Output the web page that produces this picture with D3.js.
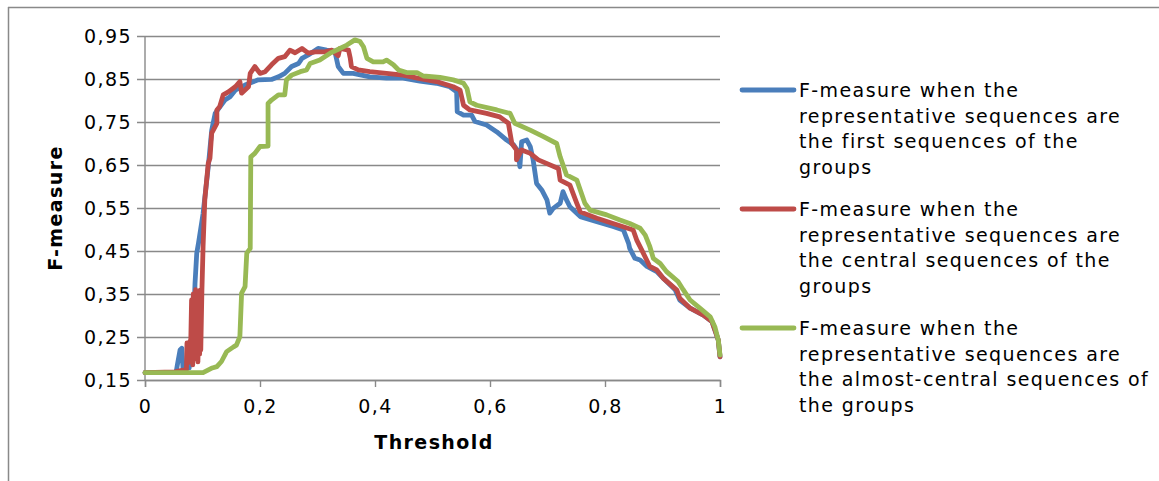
<!DOCTYPE html>
<html>
<head>
<meta charset="utf-8">
<script src="https://cdn.jsdelivr.net/npm/d3@7"></script>
<style>
  body { margin: 0; background: #fff; }
  text { font-family: "DejaVu Sans", Verdana, sans-serif; fill: #000; }
</style>
</head>
<body>
<svg id="vis" width="1159" height="481"></svg>
<script>
// threshold, F-measure
const firstSeq = [[0,0.167],[0.054,0.167],[0.056,0.183],[0.061,0.22],[0.064,0.224],[0.066,0.178],[0.077,0.178],[0.078,0.23],[0.083,0.23],[0.087,0.375],[0.09,0.445],[0.093,0.468],[0.101,0.537],[0.11,0.646],[0.116,0.731],[0.122,0.77],[0.139,0.801],[0.148,0.809],[0.157,0.824],[0.174,0.836],[0.197,0.848],[0.22,0.849],[0.232,0.855],[0.243,0.863],[0.255,0.879],[0.267,0.886],[0.273,0.898],[0.284,0.906],[0.301,0.921],[0.316,0.917],[0.33,0.915],[0.336,0.879],[0.345,0.863],[0.362,0.863],[0.391,0.855],[0.42,0.852],[0.449,0.852],[0.478,0.845],[0.507,0.84],[0.53,0.832],[0.542,0.82],[0.543,0.774],[0.554,0.766],[0.568,0.766],[0.574,0.751],[0.594,0.743],[0.612,0.727],[0.629,0.708],[0.641,0.697],[0.649,0.681],[0.652,0.646],[0.655,0.704],[0.664,0.708],[0.67,0.693],[0.675,0.662],[0.681,0.607],[0.69,0.592],[0.699,0.569],[0.704,0.538],[0.71,0.549],[0.722,0.561],[0.727,0.588],[0.733,0.569],[0.739,0.553],[0.757,0.53],[0.786,0.518],[0.814,0.507],[0.832,0.499],[0.841,0.468],[0.843,0.456],[0.852,0.433],[0.861,0.429],[0.873,0.414],[0.89,0.402],[0.901,0.387],[0.922,0.36],[0.93,0.336],[0.948,0.317],[0.971,0.301],[0.986,0.286],[0.997,0.243],[1,0.204]];
const centralSeq = [[0,0.167],[0.052,0.169],[0.066,0.173],[0.072,0.173],[0.073,0.236],[0.075,0.19],[0.078,0.24],[0.079,0.197],[0.081,0.336],[0.083,0.185],[0.084,0.35],[0.086,0.2],[0.087,0.243],[0.088,0.36],[0.09,0.313],[0.092,0.192],[0.094,0.34],[0.095,0.21],[0.096,0.359],[0.097,0.22],[0.099,0.36],[0.101,0.46],[0.104,0.569],[0.11,0.654],[0.113,0.666],[0.116,0.724],[0.125,0.747],[0.125,0.778],[0.13,0.786],[0.136,0.813],[0.145,0.82],[0.157,0.832],[0.165,0.844],[0.168,0.817],[0.18,0.832],[0.183,0.863],[0.191,0.879],[0.2,0.863],[0.209,0.867],[0.22,0.883],[0.232,0.898],[0.243,0.902],[0.252,0.917],[0.261,0.911],[0.273,0.921],[0.284,0.91],[0.296,0.913],[0.313,0.913],[0.325,0.917],[0.336,0.904],[0.339,0.921],[0.354,0.917],[0.357,0.898],[0.359,0.879],[0.371,0.871],[0.391,0.867],[0.42,0.863],[0.449,0.859],[0.478,0.851],[0.507,0.844],[0.536,0.832],[0.548,0.824],[0.554,0.789],[0.565,0.778],[0.594,0.77],[0.617,0.762],[0.632,0.747],[0.638,0.7],[0.646,0.685],[0.646,0.662],[0.655,0.685],[0.67,0.677],[0.684,0.662],[0.719,0.642],[0.722,0.615],[0.739,0.603],[0.751,0.561],[0.757,0.541],[0.786,0.526],[0.814,0.514],[0.849,0.499],[0.855,0.476],[0.864,0.452],[0.878,0.414],[0.89,0.406],[0.901,0.387],[0.925,0.359],[0.93,0.34],[0.948,0.317],[0.971,0.301],[0.986,0.286],[0.997,0.243],[1,0.204]];
const almostCentralSeq = [[0,0.167],[0.101,0.167],[0.117,0.178],[0.125,0.181],[0.133,0.193],[0.142,0.216],[0.154,0.227],[0.159,0.231],[0.165,0.251],[0.168,0.352],[0.174,0.367],[0.177,0.445],[0.183,0.456],[0.184,0.669],[0.191,0.677],[0.2,0.693],[0.214,0.694],[0.214,0.793],[0.22,0.801],[0.232,0.813],[0.243,0.813],[0.246,0.848],[0.255,0.859],[0.27,0.867],[0.281,0.871],[0.287,0.886],[0.304,0.894],[0.322,0.91],[0.339,0.921],[0.351,0.929],[0.365,0.941],[0.374,0.937],[0.38,0.925],[0.386,0.898],[0.397,0.89],[0.414,0.89],[0.42,0.894],[0.432,0.883],[0.441,0.871],[0.455,0.865],[0.473,0.865],[0.484,0.857],[0.513,0.854],[0.536,0.848],[0.554,0.84],[0.56,0.828],[0.565,0.797],[0.577,0.789],[0.612,0.778],[0.635,0.77],[0.643,0.747],[0.67,0.731],[0.693,0.716],[0.716,0.7],[0.722,0.669],[0.733,0.627],[0.751,0.615],[0.757,0.592],[0.765,0.561],[0.774,0.545],[0.803,0.534],[0.826,0.522],[0.843,0.514],[0.861,0.503],[0.87,0.487],[0.878,0.46],[0.884,0.433],[0.896,0.421],[0.907,0.402],[0.927,0.379],[0.936,0.36],[0.948,0.336],[0.965,0.317],[0.983,0.297],[0.991,0.274],[0.997,0.243],[1,0.208]];

const yTicks = [0.15, 0.25, 0.35, 0.45, 0.55, 0.65, 0.75, 0.85, 0.95];
const xTicks = [0, 0.2, 0.4, 0.6, 0.8, 1];
const seriesNames = [
  ["F-measure when the", "representative sequences are", "the first sequences of the", "groups"],
  ["F-measure when the", "representative sequences are", "the central sequences of the", "groups"],
  ["F-measure when the", "representative sequences are", "the almost-central sequences of", "the groups"]
];
const colors = ["#4a7ebb", "#be4b48", "#98b954"];

const svg = d3.select("#vis");
const grey = "#898989";
const fs = 19, ls = "1.4px";

// outer frame (top + left visible)
svg.append("line").attr("x1", 8).attr("x2", 1159).attr("y1", 7.5).attr("y2", 7.5)
   .attr("stroke", grey).attr("stroke-width", 1.5);
svg.append("line").attr("x1", 8.5).attr("x2", 8.5).attr("y1", 7).attr("y2", 481)
   .attr("stroke", grey).attr("stroke-width", 1.5);

const x = d3.scaleLinear().domain([0, 1]).range([145, 720]);
const y = d3.scaleLinear().domain([0.15, 0.95]).range([380, 36]);
const fmt = v => String(v).replace(".", ",");
const fmtY = v => v.toFixed(2).replace(".", ",");

// gridlines + y axis
const yAxis = svg.append("g").attr("transform", "translate(145,0)")
  .call(d3.axisLeft(y).tickValues(yTicks).tickFormat(fmtY).tickSize(-575).tickPadding(13));
yAxis.select(".domain").remove();
yAxis.selectAll(".tick line").attr("stroke", grey).attr("stroke-width", 1.4).attr("x1", -8);
yAxis.selectAll(".tick text").attr("font-size", fs).style("letter-spacing", ls)
  .attr("font-family", "DejaVu Sans").attr("fill", "#000");

svg.append("line").attr("x1", 145).attr("x2", 145).attr("y1", 36).attr("y2", 380)
  .attr("stroke", grey).attr("stroke-width", 1.4);

const xAxis = svg.append("g").attr("transform", "translate(0,380)")
  .call(d3.axisBottom(x).tickValues(xTicks).tickFormat(fmt).tickSize(7).tickPadding(13));
xAxis.select(".domain").attr("stroke", grey).attr("stroke-width", 1.4);
xAxis.selectAll(".tick line").attr("stroke", grey).attr("stroke-width", 1.4);
xAxis.selectAll(".tick text").attr("font-size", fs).style("letter-spacing", ls)
  .attr("font-family", "DejaVu Sans").attr("fill", "#000");

// series
const line = d3.line().x(d => x(d[0])).y(d => y(d[1]));
[firstSeq, centralSeq, almostCentralSeq].forEach((s, i) => {
  svg.append("path").datum(s).attr("d", line)
    .attr("fill", "none").attr("stroke", colors[i]).attr("stroke-width", 4.8)
    .attr("stroke-linejoin", "round").attr("stroke-linecap", "round");
});

// axis titles
svg.append("text").attr("x", 434).attr("y", 449).attr("text-anchor", "middle")
  .attr("font-size", fs).attr("font-weight", "bold").style("letter-spacing", ls).text("Threshold");
svg.append("text").attr("transform", "translate(62,208) rotate(-90)").attr("text-anchor", "middle")
  .attr("font-size", fs).attr("font-weight", "bold").style("letter-spacing", ls).text("F-measure");

// legend
const legendY = [90, 209, 328];
seriesNames.forEach((lines, i) => {
  const g = svg.append("g").attr("transform", `translate(0,${legendY[i]})`);
  g.append("line").attr("x1", 742).attr("x2", 794).attr("y1", 0).attr("y2", 0)
    .attr("stroke", colors[i]).attr("stroke-width", 4.8).attr("stroke-linecap", "round");
  lines.forEach((t, j) => {
    g.append("text").attr("x", 799).attr("y", j * 25.7).attr("dy", "0.36em")
      .attr("font-size", fs).style("letter-spacing", ls).text(t);
  });
});
</script>
</body>
</html>
